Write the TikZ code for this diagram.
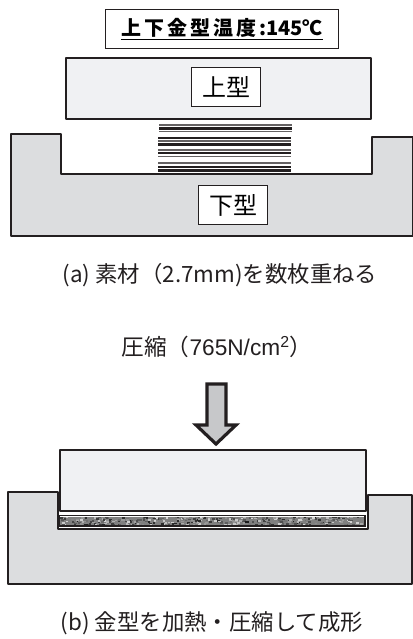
\documentclass[tikz,border=0pt]{standalone}
\usepackage{fontspec}
\setmainfont{Noto Sans CJK JP}
\newfontfamily\latinfont{Liberation Sans}
\definecolor{upperfill}{RGB}{240,241,243}
\definecolor{lowerfill}{RGB}{220,221,223}
\definecolor{moldline}{RGB}{35,31,32}
\definecolor{arrowfill}{RGB}{199,200,202}
\tikzset{
  mold/.style={draw=moldline,line width=2.1pt,line join=round},
  labelbox/.style={draw=moldline,fill=white,line width=0.6pt,minimum width=52pt,minimum height=29pt,inner sep=0pt,font=\fontsize{18}{18}\selectfont},
  caption/.style={inner sep=0pt,text=moldline,font=\fontsize{16.8}{18}\selectfont},
  sheetdark/.style={draw=moldline,line width=1.6pt},
  sheetgray/.style={draw=moldline!70,line width=1.1pt},
}
\begin{document}
\begin{tikzpicture}[x=0.75pt,y=0.75pt,yscale=-1,xscale=1]
\useasboundingbox (0,0) rectangle (413,639);

% temperature box
\node [draw=moldline,line width=0.8pt,minimum width=175pt,minimum height=29pt,inner sep=0pt,font=\bfseries\fontsize{15}{16}\selectfont] (temp) at (222,29) {\underline{上\hspace{2.2pt}下\hspace{2.2pt}金\hspace{2.2pt}型\hspace{2.2pt}温\hspace{2.2pt}度\hspace{2.2pt}:145℃}};

% open mold
\draw [mold,fill=upperfill] (66,58) rectangle (371,119);
\node [labelbox] (upperlabel) at (226,87) {上型};
\draw [mold,fill=lowerfill] (11,236) -- (11,134) -- (61,134) -- (61,174) -- (372,174) -- (372,137) -- (413,137) -- (413,236) -- cycle;
\node [labelbox] (lowerlabel) at (233,205) {下型};

% sheets
\foreach \y in {128.5} \draw [sheetdark] (159,\y) -- (292,\y);
\foreach \y in {125,131.7} \draw [sheetgray] (159,\y) -- (292,\y);
\foreach \y in {138,144.5,153.3,166.7,170.5} \draw [sheetdark] (158,\y) -- (291,\y);
\foreach \y in {141,150,156.7,163} \draw [sheetgray] (158,\y) -- (291,\y);

\node [caption] (capa) at (220,275) {(a) 素材（2.7mm)を数枚重ねる};
\node [caption,font=\fontsize{17}{18}\selectfont] (press) at (217,347) {圧縮（{\latinfont 765N/cm\textsuperscript{2}}）};

% arrow
\draw [mold,line width=2.4pt,line join=miter,fill=arrowfill] (207,384) -- (226,384) -- (226,425) -- (236,425) -- (216,444) -- (196,425) -- (207,425) -- cycle;

% closed mold
\draw [mold,fill=lowerfill] (8,584) -- (8,492) -- (58,492) -- (58,529) -- (368,529) -- (368,495) -- (412,495) -- (412,584) -- cycle;
\fill [white] (59,511) rectangle (367,528);
\draw [mold,fill=upperfill] (60,450) rectangle (366,511);

% material
\fill [black!50] (60,517) rectangle (365,525);
\begin{scope}
\clip (60,517) rectangle (365,525);
\pgfmathsetseed{7}
\foreach \i in {1,...,420} {
  \pgfmathsetmacro{\sx}{60+305*rnd}
  \pgfmathsetmacro{\sy}{516+9*rnd}
  \pgfmathsetmacro{\sk}{int(15+75*rnd)}
  \fill [black!\sk] (\sx,\sy) rectangle ++(2.5,1.6);
}
\end{scope}
\draw [moldline,line width=1.4pt] (59,515.5) rectangle (365,526);

\node [caption] (capb) at (212,623) {(b) 金型を加熱・圧縮して成形};
\end{tikzpicture}
\end{document}
